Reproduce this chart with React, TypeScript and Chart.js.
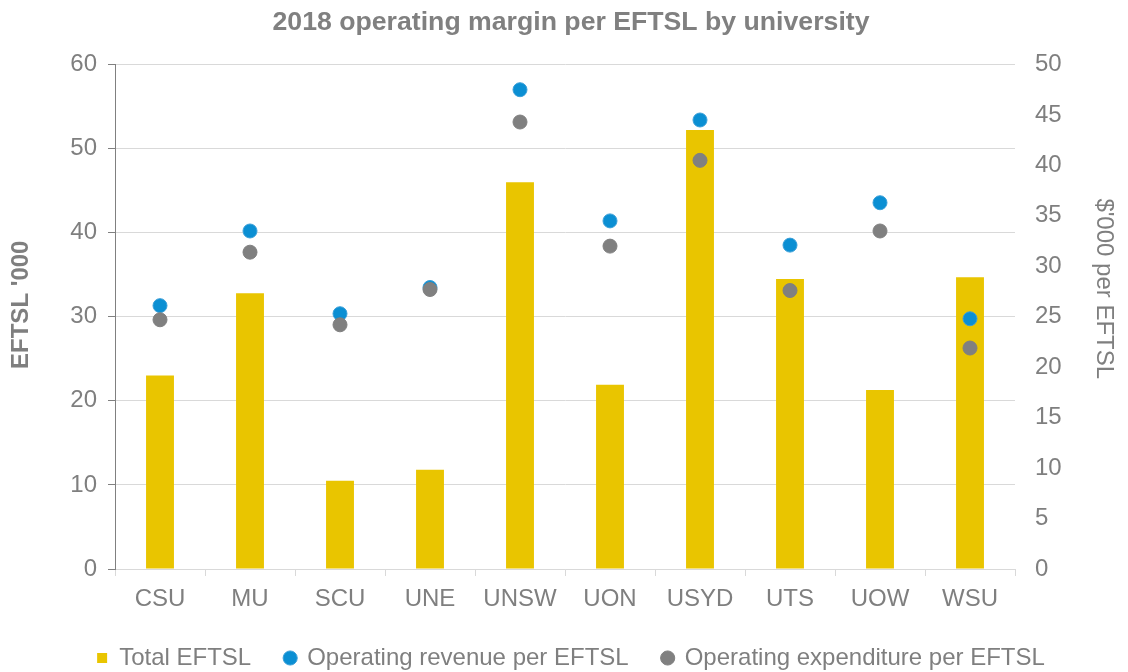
import React, { useEffect, useRef } from "react";
import { Chart, registerables } from "chart.js";

Chart.register(...registerables);

const chartTitle = "2018 operating margin per EFTSL by university";
const leftAxisTitle = "EFTSL '000";
const rightAxisTitle = "$'000 per EFTSL";

const categories = ["CSU", "MU", "SCU", "UNE", "UNSW", "UON", "USYD", "UTS", "UOW", "WSU"];
const totalEftsl = [23.0, 32.8, 10.5, 11.8, 46.0, 21.9, 52.2, 34.5, 21.3, 34.7];
const revenuePerEftsl = [26.1, 33.5, 25.3, 27.9, 47.5, 34.5, 44.5, 32.1, 36.3, 24.8];
const expenditurePerEftsl = [24.7, 31.4, 24.2, 27.7, 44.3, 32.0, 40.5, 27.6, 33.5, 21.9];

const seriesNames = ["Total EFTSL", "Operating revenue per EFTSL", "Operating expenditure per EFTSL"];

const FONT = "'Liberation Sans', Arial, Helvetica, sans-serif";
const TEXT = "#7f7f7f";
const GRID = "#d9d9d9";
const YELLOW = "#E9C500";
const BLUE = "#0B8FD3";
const GREY = "#808080";

const axisTitlesPlugin = {
  id: "axisTitles",
  afterDraw(chart: any) {
    const { ctx, chartArea } = chart;
    const midY = (chartArea.top + chartArea.bottom) / 2;
    ctx.save();
    ctx.fillStyle = TEXT;
    ctx.textAlign = "center";
    ctx.textBaseline = "middle";
    ctx.save();
    ctx.font = `bold 24px ${FONT}`;
    ctx.translate(chartArea.left - 94, midY - 12);
    ctx.rotate(-Math.PI / 2);
    ctx.fillText(leftAxisTitle, 0, 0);
    ctx.restore();
    ctx.save();
    ctx.font = `24px ${FONT}`;
    ctx.translate(chartArea.right + 89, midY - 28);
    ctx.rotate(Math.PI / 2);
    ctx.fillText(rightAxisTitle, 0, 0);
    ctx.restore();
    ctx.restore();
  },
};

export default function App() {
  const canvasRef = useRef<HTMLCanvasElement | null>(null);

  useEffect(() => {
    if (!canvasRef.current) return;
    Chart.defaults.font.family = FONT;
    Chart.defaults.color = TEXT;
    const chart = new Chart(canvasRef.current, {
      type: "bar",
      data: {
        labels: categories,
        datasets: [
          {
            type: "bar",
            label: seriesNames[0],
            data: totalEftsl,
            backgroundColor: YELLOW,
            borderWidth: 0,
            yAxisID: "y",
            order: 3,
            pointStyle: "rect",
            barPercentage: 0.31,
            categoryPercentage: 1,
          } as any,
          {
            type: "line",
            label: seriesNames[1],
            data: revenuePerEftsl,
            backgroundColor: BLUE,
            borderColor: "#3a9fd8",
            pointBackgroundColor: BLUE,
            pointBorderColor: "#3a9fd8",
            pointBorderWidth: 1,
            pointRadius: 7,
            pointStyle: "circle",
            showLine: false,
            yAxisID: "y1",
            order: 2,
          } as any,
          {
            type: "line",
            label: seriesNames[2],
            data: expenditurePerEftsl,
            backgroundColor: GREY,
            borderColor: GREY,
            pointBackgroundColor: GREY,
            pointBorderColor: GREY,
            pointBorderWidth: 1,
            pointRadius: 7,
            pointStyle: "circle",
            showLine: false,
            yAxisID: "y1",
            order: 1,
          } as any,
        ],
      },
      options: {
        responsive: false,
        animation: false,
        layout: { padding: { left: 14, right: 0, top: 0, bottom: 0 } },
        plugins: {
          tooltip: { enabled: false },
          title: {
            display: true,
            text: chartTitle,
            color: GREY,
            font: { family: FONT, size: 26.67, weight: "bold" },
            padding: { top: 7, bottom: 25.5 },
          },
          legend: {
            display: true,
            position: "bottom",
            labels: {
              usePointStyle: true,
              boxWidth: 10,
              boxHeight: 10,
              padding: 34,
              color: TEXT,
              font: { family: FONT, size: 24 },
              sort: (a: any, b: any) => a.datasetIndex - b.datasetIndex,
            },
          },
        },
        scales: {
          x: {
            type: "category",
            offset: true,
            grid: {
              offset: true,
              drawOnChartArea: false,
              drawTicks: true,
              tickLength: 7,
              color: GRID,
              tickColor: GRID,
            },
            border: { display: true, color: GRID, width: 1 },
            ticks: {
              color: TEXT,
              font: { family: FONT, size: 24 },
              padding: 9,
              maxRotation: 0,
              autoSkip: false,
            },
            afterFit: (scale: any) => {
              scale.height = 43;
            },
          },
          y: {
            type: "linear",
            position: "left",
            min: 0,
            max: 60,
            ticks: {
              stepSize: 10,
              color: TEXT,
              font: { family: FONT, size: 24 },
              padding: 11,
            },
            grid: {
              color: GRID,
              tickColor: GREY,
              tickLength: 7,
              drawTicks: true,
            },
            border: { display: true, color: GREY, width: 1 },
            afterFit: (scale: any) => {
              scale.width = 101;
            },
          },
          y1: {
            type: "linear",
            position: "right",
            min: 0,
            max: 50,
            ticks: {
              stepSize: 5,
              color: TEXT,
              font: { family: FONT, size: 24 },
              padding: 20,
            },
            grid: { display: false, drawTicks: false, drawOnChartArea: false },
            border: { display: false },
            afterFit: (scale: any) => {
              scale.width = 113;
            },
          },
        },
      } as any,
      plugins: [axisTitlesPlugin],
    });
    return () => chart.destroy();
  }, []);

  return (
    <div style={{ position: "fixed", left: 0, top: 0, width: 1128, height: 680, background: "#fff" }}>
      <canvas ref={canvasRef} width={1128} height={680} style={{ display: "block", width: 1128, height: 680 }} />
    </div>
  );
}
